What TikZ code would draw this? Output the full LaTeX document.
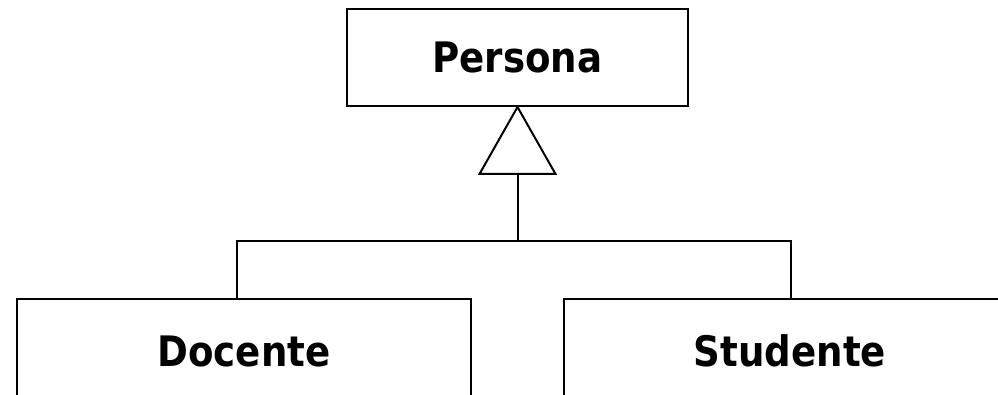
\documentclass[tikz,border=0pt]{standalone}
\usepackage{fontspec}
\setmainfont{DejaVu Sans}[FakeStretch=0.885]
\usepackage{tikz}
\tikzstyle{Class}=[rectangle, draw=black, line width=1.5pt, font=\fontsize{31.5pt}{36pt}\selectfont\bfseries, text centered]

\begin{document}
\begin{tikzpicture}[x=0.75pt, y=-0.75pt, line width=1.5pt]
    \useasboundingbox (0,0) rectangle (998,395);
    \clip (0,0) rectangle (998,395);
    \path
    (517.5,57.5) node[Class, minimum width=255.75pt, minimum height=72.75pt] (persona) {Persona}
    (244,351) node[Class, minimum width=340.5pt, minimum height=78pt] (docente) {Docente}
    (790,351) node[Class, minimum width=339pt, minimum height=78pt] (studente) {Studente};

    \coordinate (base) at (517.5,174);
    \coordinate (bar) at (517.5,241);
    \draw (persona.south) -- (479.5,174) -- (555.5,174) -- cycle;
    \draw (base) -- (bar);
    \draw ([xshift=-5.25pt]docente.north) |- (bar) -| ([xshift=0.75pt]studente.north);
\end{tikzpicture}
\end{document}
